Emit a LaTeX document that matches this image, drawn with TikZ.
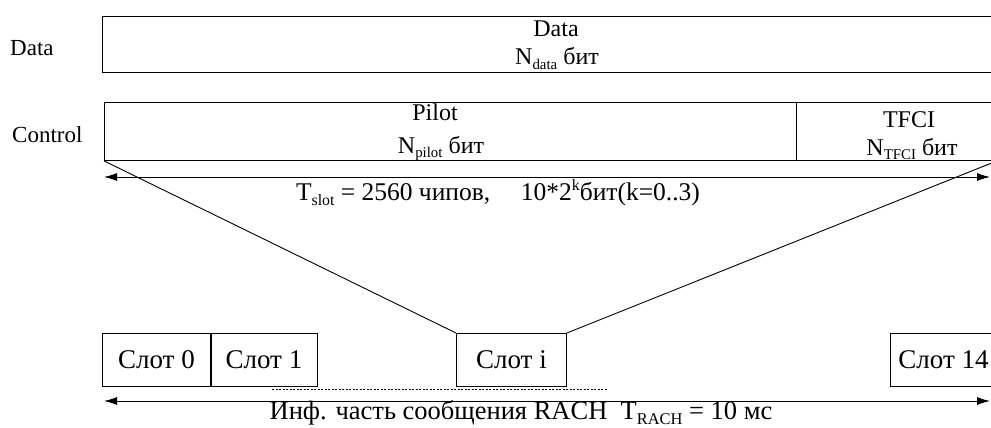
\documentclass[tikz,border=0pt]{standalone}
\usepackage{fontspec}
\setmainfont{Liberation Serif}
\usetikzlibrary{arrows.meta}
\newcommand{\lowsub}[1]{\raisebox{-0.45ex}{\scalebox{0.62}{#1}}}
\newcommand{\highsup}[1]{\raisebox{0.85ex}{\scalebox{0.62}{#1}}}
\begin{document}
\begin{tikzpicture}[x=1pt,y=-1pt,
    field/.style={draw,line width=0.9pt,inner sep=0pt,anchor=north west},
    slotbox/.style={field,minimum height=53pt,font=\fontsize{27}{31}\selectfont},
    txt/.style={anchor=base,inner sep=0pt,font=\fontsize{24}{28}\selectfont},
    rowlbl/.style={anchor=base west,inner sep=0pt,font=\fontsize{23}{27}\selectfont},
    >={Latex[length=13pt,width=8pt]}]
  \clip (0,0) rectangle (991,428);
  % row labels
  \node[rowlbl] (datalbl) at (10,56) {Data};
  \node[rowlbl] (ctrllbl) at (12,142) {Control};
  % data field
  \node[field,minimum width=900pt,minimum height=56pt] (databox) at (102,16) {};
  \node[txt] (datatitle) at (556,37) {Data};
  \node[txt] (databits) at (557,65) {N\lowsub{data} бит};
  % control field: pilot and TFCI
  \node[field,minimum width=692pt,minimum height=58pt] (pilot) at (104,102) {};
  \node[field,minimum width=200pt,minimum height=58pt] (tfci) at (796,102) {};
  \node[txt] (pilottitle) at (435,121) {Pilot};
  \node[txt] (pilotbits) at (441,153) {N\lowsub{pilot} бит};
  \node[txt] (tfcititle) at (909,127) {TFCI};
  \node[txt] (tfcibits) at (912,155) {N\lowsub{TFCI} бит};
  % slot length
  \coordinate (slotl) at (104,177);
  \coordinate (slotr) at (990,177);
  \draw[line width=0.9pt,<->] (slotl) -- (slotr);
  \node[txt,font=\fontsize{25.5}{29}\selectfont] (slotlen) at (498,200) {T\lowsub{slot} = 2560 чипов,\hspace{1.2em}10*2\highsup{k}бит(k=0..3)};
  % slots of the frame
  \foreach \nm/\x/\w/\lab in {slot0/102/108/{Слот 0}, slot1/210/107/{Слот 1},
      sloti/456/110/{Слот i}, slotn/890/106/{Слот 14}}
    \node[slotbox,minimum width=\w pt] (\nm) at (\x,333) {\lab};
  \draw[line width=2.2pt] (slot0.north east) -- (slot0.south east);
  % zoom lines from slot i up to the control field
  \draw[line width=0.9pt] (pilot.south west) -- (sloti.north west);
  \draw[line width=0.9pt] (sloti.north east) -- (tfci.south east);
  \coordinate (dotl) at (272,389);
  \coordinate (dotr) at (608,389);
  \draw[line width=0.9pt,dash pattern=on 2pt off 1.5pt] (dotl) -- (dotr);
  % message length
  \coordinate (rachl) at (104,401);
  \coordinate (rachr) at (990,401);
  \draw[line width=0.9pt,<->] (rachl) -- (rachr);
  \node[txt,font=\fontsize{26.5}{30}\selectfont] (rachlen) at (521,419) {Инф. часть сообщения RACH\ \ T\lowsub{RACH} = 10 мс};
\end{tikzpicture}
\end{document}
